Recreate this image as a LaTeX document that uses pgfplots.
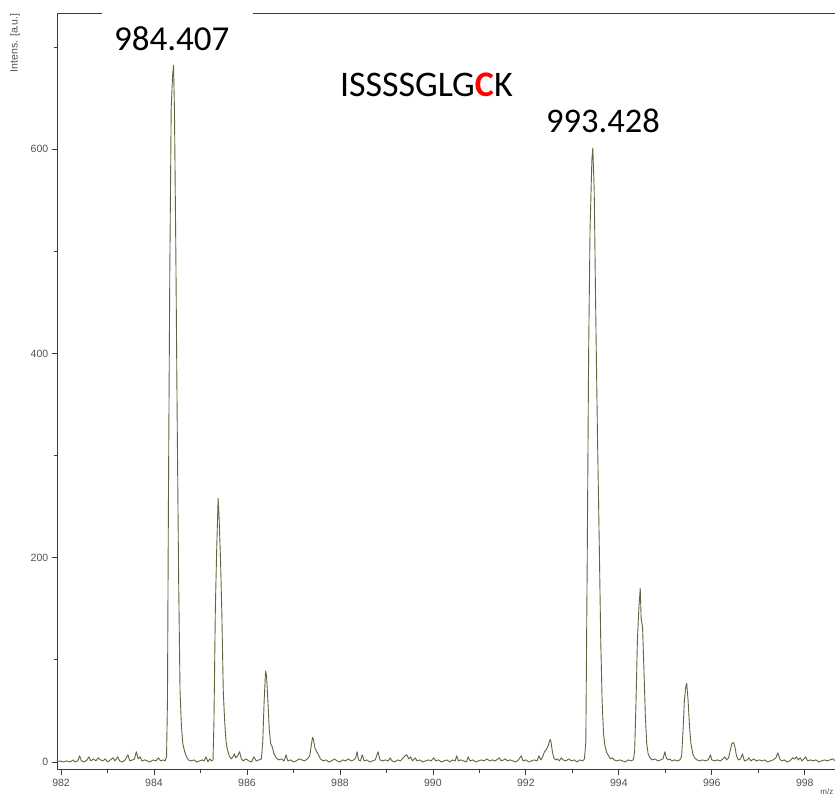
\documentclass[border=0pt]{standalone}
\usepackage{pgfplots}
\pgfplotsset{compat=1.18}
\usepackage{fontspec}
\setmainfont{Liberation Sans}
\newfontfamily\calibri{Carlito}
\definecolor{specline}{RGB}{100,100,62}
\definecolor{axgray}{RGB}{60,60,60}
\definecolor{lblgray}{RGB}{80,80,80}
\begin{document}
\begin{tikzpicture}
\path[use as bounding box] (-57.3pt,-26.5pt) rectangle (777.7pt,769.5pt);
\begin{axis}[
  at={(0,0)}, anchor=south west,
  scale only axis, width=777.7pt, height=756.2pt,
  xmin=981.92, xmax=998.65, ymin=-7.4, ymax=733,
  axis x line*=bottom, axis y line*=left,
  axis line style={axgray, line width=0.9pt},
  tick style={axgray, line width=0.8pt},
  tick align=outside,
  major tick length=5.5pt, minor tick length=3.5pt,
  xtick={982,984,986,988,990,992,994,996,998},
  minor xtick={983,985,987,989,991,993,995,997},
  ytick={0,200,400,600},
  minor ytick={100,300,500,700},
  /pgf/number format/assume math mode=true,
  /pgf/number format/1000 sep={},
  ticklabel style={font=\fontsize{10.5}{12}\selectfont, text=lblgray},
  xticklabel style={yshift=-0.5pt},
  clip=false,
]
\draw[axgray, line width=0.9pt] (rel axis cs:0,1) -- (axis cs:982.88,733);
\draw[axgray, line width=0.9pt] (axis cs:986.12,733) -- (rel axis cs:1,1);
\addplot[specline, line width=0.9pt, line join=round] table {
981.92 0
981.98 1
982.05 0
982.12 1
982.20 0
982.26 2
982.30 0
982.36 1
982.40 6
982.44 1
982.50 0
982.56 2
982.60 5
982.64 1
982.70 3
982.75 1
982.80 4
982.85 2
982.90 1
982.95 3
983.00 0
983.06 2
983.12 4
983.16 1
983.22 5
983.26 1
983.32 0
983.38 2
983.44 7
983.48 1
983.54 2
983.58 3
983.62 10
983.66 3
983.70 5
983.74 1
983.80 2
983.86 1
983.92 0
983.98 2
984.04 1
984.10 4
984.14 1
984.20 2
984.24 1
984.27 5
984.29 60
984.31 250
984.34 480
984.37 640
984.40 672
984.42 682
984.44 640
984.47 500
984.50 330
984.53 180
984.56 70
984.59 35
984.62 18
984.66 10
984.70 5
984.74 2
984.80 1
984.86 2
984.92 0
984.98 1
985.04 2
985.08 1
985.12 5
985.16 0
985.20 3
985.24 1
985.27 2
985.29 40
985.32 150
985.35 210
985.38 258
985.40 240
985.43 200
985.46 145
985.49 70
985.52 40
985.55 20
985.58 12
985.62 6
985.66 3
985.70 5
985.73 8
985.76 4
985.80 6
985.84 10
985.88 3
985.92 1
985.98 3
986.04 1
986.10 0
986.15 5
986.20 1
986.26 2
986.31 3
986.34 20
986.37 60
986.40 89
986.42 85
986.45 60
986.48 32
986.51 18
986.55 14
986.58 8
986.63 4
986.68 2
986.74 3
986.80 1
986.84 7
986.88 1
986.94 2
987.00 0
987.06 1
987.12 3
987.18 2
987.24 1
987.30 3
987.35 6
987.38 15
987.41 24
987.43 22
987.46 14
987.50 10
987.54 7
987.58 3
987.64 1
987.70 2
987.76 0
987.82 1
987.88 3
987.94 1
988.00 0
988.06 2
988.12 1
988.18 3
988.24 1
988.30 2
988.34 4
988.37 10
988.40 2
988.44 1
988.48 7
988.52 1
988.58 2
988.64 0
988.70 1
988.76 2
988.82 10
988.86 2
988.92 1
988.98 2
989.04 1
989.08 4
989.12 1
989.18 0
989.24 2
989.30 1
989.36 4
989.40 6
989.44 7
989.48 3
989.52 5
989.56 1
989.62 4
989.66 1
989.72 2
989.78 0
989.84 1
989.90 2
989.96 1
990.02 4
990.06 1
990.12 2
990.18 0
990.24 1
990.30 2
990.36 0
990.42 2
990.48 1
990.51 6
990.55 1
990.60 2
990.66 1
990.72 0
990.76 5
990.80 1
990.86 2
990.92 0
990.98 1
991.04 2
991.10 1
991.16 3
991.22 1
991.28 2
991.34 1
991.40 3
991.43 4
991.47 1
991.52 2
991.56 3
991.60 1
991.66 2
991.72 1
991.78 0
991.84 2
991.90 6
991.94 1
992.00 2
992.06 0
992.12 1
992.18 2
992.24 1
992.28 6
992.32 2
992.36 5
992.40 10
992.44 12
992.48 16
992.52 22
992.54 20
992.57 10
992.60 4
992.64 2
992.68 3
992.72 1
992.76 4
992.80 2
992.86 1
992.92 3
992.98 1
993.04 2
993.10 0
993.16 2
993.22 1
993.26 3
993.29 20
993.32 200
993.35 400
993.38 520
993.42 590
993.44 601
993.47 560
993.50 450
993.54 320
993.58 210
993.61 120
993.64 60
993.67 28
993.70 16
993.74 9
993.78 6
993.82 3
993.86 4
993.90 2
993.96 1
994.02 2
994.08 1
994.14 0
994.20 2
994.26 1
994.31 2
994.34 10
994.37 60
994.40 120
994.43 150
994.46 170
994.48 140
994.51 132
994.54 90
994.57 45
994.60 18
994.63 8
994.67 4
994.72 2
994.78 3
994.84 1
994.90 2
994.95 3
994.99 10
995.02 4
995.06 2
995.10 3
995.14 1
995.20 2
995.26 1
995.31 2
995.35 5
995.38 30
995.41 60
995.44 74
995.46 77
995.49 60
995.52 35
995.55 18
995.59 8
995.63 4
995.68 2
995.74 1
995.80 2
995.86 1
995.92 2
995.97 7
996.00 2
996.06 1
996.12 2
996.18 1
996.24 3
996.28 5
996.32 2
996.36 4
996.40 12
996.43 18
996.47 19
996.50 14
996.53 6
996.57 2
996.62 3
996.66 8
996.70 1
996.76 2
996.80 4
996.84 1
996.90 3
996.96 1
997.02 2
997.08 1
997.14 2
997.20 0
997.26 1
997.32 2
997.38 4
997.42 9
997.46 3
997.50 1
997.56 2
997.62 0
997.68 1
997.74 4
997.78 3
997.82 5
997.86 2
997.90 4
997.94 1
997.98 3
998.02 5
998.06 1
998.12 2
998.18 1
998.24 2
998.30 0
998.36 1
998.42 2
998.48 1
998.54 2
998.60 3
998.66 1
};
\node[font=\calibri\fontsize{35}{40}\selectfont, inner sep=0pt] at (axis cs:984.38,707.7) {984.407};
\node[font=\calibri\fontsize{36}{40}\selectfont, inner sep=0pt] at (axis cs:989.86,662.6) {ISSSSGLG\textbf{\color{red}C}K};
\node[font=\calibri\fontsize{34.5}{40}\selectfont, inner sep=0pt] at (axis cs:993.66,627.4) {993.428};
\node[font=\fontsize{8}{9}\selectfont, text=lblgray, anchor=east, inner sep=0pt] at ([xshift=-1.5pt,yshift=-22.5pt]rel axis cs:1,0) {m/z};
\node[font=\fontsize{10.5}{12}\selectfont, text=lblgray, rotate=90, anchor=east, inner sep=0pt] at ([xshift=-42.3pt]rel axis cs:0,1) {Intens. [a.u.]};
\end{axis}
\end{tikzpicture}
\end{document}
